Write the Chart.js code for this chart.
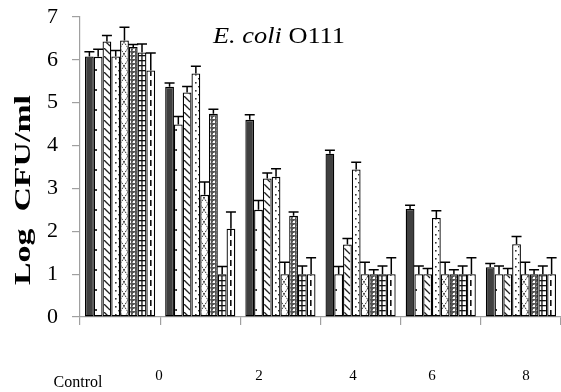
<!DOCTYPE html>
<html>
<head>
<meta charset="utf-8">
<script src="https://cdn.jsdelivr.net/npm/chart.js@4.4.1/dist/chart.umd.min.js"></script>
<style>
html,body{margin:0;padding:0;background:#fff;}
#wrap{width:561px;height:392px;position:relative;}
</style>
</head>
<body>
<div id="wrap"><canvas id="c" width="561" height="392"></canvas></div>
<script>
// ---- data ----
const categories = ['Control', '0', '2', '4', '6', '8'];
const yTicks = [0, 1, 2, 3, 4, 5, 6, 7];
const s1 = [6.08, 5.37, 4.60, 3.81, 2.52, 1.16];
const s2 = [6.07, 4.49, 2.50, 1.00, 1.00, 1.00];
const s3 = [6.43, 5.24, 3.23, 1.69, 1.00, 1.00];
const s4 = [6.08, 5.68, 3.27, 3.44, 2.31, 1.70];
const s5 = [6.45, 2.85, 1.00, 1.00, 1.00, 1.00];
const s6 = [6.30, 4.74, 2.36, 1.00, 1.00, 1.00];
const s7 = [6.17, 1.00, 1.00, 1.00, 1.00, 1.00];
const s8 = [5.75, 2.06, 1.00, 1.00, 1.00, 1.00];
const e1 = [0.11, 0.09, 0.12, 0.08, 0.09, 0.09];
const e2 = [0.18, 0.19, 0.22, 0.18, 0.19, 0.19];
const e3 = [0.14, 0.14, 0.13, 0.14, 0.13, 0.13];
const e4 = [0.14, 0.17, 0.19, 0.17, 0.17, 0.18];
const e5 = [0.31, 0.30, 0.28, 0.28, 0.28, 0.28];
const e6 = [0.06, 0.11, 0.09, 0.10, 0.10, 0.10];
const e7 = [0.20, 0.18, 0.19, 0.19, 0.19, 0.19];
const e8 = [0.41, 0.39, 0.38, 0.38, 0.38, 0.38];
const yTitle = 'Log  CFU/ml';
const titleItalic = 'E. coli';
const titleNormal = ' O111';

// ---- patterns ----
function tile(w, h, draw) {
  const cv = document.createElement('canvas');
  cv.width = w; cv.height = h;
  const g = cv.getContext('2d');
  g.fillStyle = '#fff'; g.fillRect(0, 0, w, h);
  draw(g);
  return document.getElementById('c').getContext('2d').createPattern(cv, 'repeat');
}
const pDots = tile(10, 20, g => { g.fillStyle = '#333'; g.fillRect(5, 9, 2, 2); });
const pDiag = tile(8, 8, g => {
  g.strokeStyle = '#222'; g.lineWidth = 1.3;
  g.beginPath(); g.moveTo(0, 0); g.lineTo(4, 4); g.stroke();
  g.beginPath(); g.moveTo(4, 4); g.lineTo(6, 6); g.stroke();
});
const pDot2 = tile(8, 8, g => { g.fillStyle = '#333'; g.fillRect(3, 2, 1.6, 1.6); g.fillRect(6, 6, 1.4, 1.4); });
const pZig = tile(8, 12, g => {
  g.strokeStyle = '#333'; g.lineWidth = 1;
  g.setLineDash([2, 1]);
  g.beginPath(); g.moveTo(0, 0); g.lineTo(8, 12); g.stroke();
  g.beginPath(); g.moveTo(8, 0); g.lineTo(0, 12); g.stroke();
});
const pCross = tile(4, 4, g => {
  g.fillStyle = '#555';
  g.fillRect(0, 0, 4, 4);
  g.fillStyle = '#fff';
  g.fillRect(1, 1, 2, 2);
  g.fillStyle = '#999';
  g.fillRect(0, 2, 1, 1); g.fillRect(2, 0, 1, 1);
});
const pGrid = tile(10, 5, g => {
  g.fillStyle = '#111';
  g.fillRect(0, 0, 10, 1.3);
  g.fillRect(1.3, 0, 1.3, 5);
});
const pDash = tile(10, 10, g => { g.fillStyle = '#111'; g.fillRect(0, 0, 1.6, 6); });

const fills = ['#404040', pDots, pDiag, pDot2, pZig, pCross, pGrid, pDash];
const series = [s1, s2, s3, s4, s5, s6, s7, s8];
const errs = [e1, e2, e3, e4, e5, e6, e7, e8];

const datasets = series.map((d, i) => ({
  label: 'S' + (i + 1),
  data: d,
  err: errs[i],
  backgroundColor: fills[i],
  borderColor: '#000',
  borderWidth: 1.3,
  borderSkipped: false,
  categoryPercentage: 0.875,
  barPercentage: 1.0
}));

const serif = "'Liberation Serif','Times New Roman',serif";

const errorBars = {
  id: 'errorBars',
  afterDatasetsDraw(chart) {
    const ctx = chart.ctx, y = chart.scales.y;
    ctx.save();
    ctx.strokeStyle = '#000'; ctx.lineWidth = 1.5;
    chart.data.datasets.forEach((ds, di) => {
      const meta = chart.getDatasetMeta(di);
      meta.data.forEach((bar, i) => {
        const v = ds.data[i], e = ds.err[i];
        const y0 = y.getPixelForValue(v), y1 = y.getPixelForValue(v + e);
        ctx.beginPath();
        ctx.moveTo(bar.x, y0); ctx.lineTo(bar.x, y1);
        ctx.moveTo(bar.x - 5, y1); ctx.lineTo(bar.x + 5, y1);
        ctx.stroke();
      });
    });
    ctx.restore();
  }
};

const texts = {
  id: 'texts',
  afterDraw(chart) {
    const ctx = chart.ctx;
    ctx.save();
    ctx.fillStyle = '#000';
    // title, widened to the reference's span
    ctx.textBaseline = 'alphabetic';
    ctx.textAlign = 'left';
    ctx.font = 'italic 23px ' + serif;
    const w1 = ctx.measureText(titleItalic).width;
    ctx.font = '23px ' + serif;
    const w2 = ctx.measureText(titleNormal).width;
    const sx = 132 / (w1 + w2);
    ctx.save();
    ctx.translate(213, 43);
    ctx.scale(sx, 1);
    ctx.font = 'italic 23px ' + serif;
    ctx.fillText(titleItalic, 0, 0);
    ctx.font = '23px ' + serif;
    ctx.fillText(titleNormal, w1, 0);
    ctx.restore();
    // y title (stretched along its length)
    ctx.save();
    ctx.font = 'bold 23px ' + serif;
    const tw = ctx.measureText(yTitle).width;
    ctx.translate(24, 190);
    ctx.rotate(-Math.PI / 2);
    ctx.scale(190 / tw, 1);
    ctx.textAlign = 'center';
    ctx.textBaseline = 'middle';
    ctx.fillText(yTitle, 0, 0);
    ctx.restore();
    // category labels row
    const lx = [78, 159, 259, 353, 432, 526];
    ctx.textAlign = 'center';
    ctx.textBaseline = 'alphabetic';
    categories.forEach((c, i) => {
      ctx.font = (i === 0 ? '16px ' : '15px ') + serif;
      ctx.fillText(c, lx[i], i === 0 ? 387 : 380);
    });
    ctx.restore();
  }
};

new Chart(document.getElementById('c'), {
  type: 'bar',
  data: { labels: categories, datasets },
  options: {
    responsive: false,
    animation: false,
    layout: { padding: { top: 17, left: 0, right: 0, bottom: 0 } },
    plugins: { legend: { display: false }, tooltip: { enabled: false }, title: { display: false } },
    scales: {
      x: {
        afterFit(s) { s.height = 75; s.paddingLeft = 0; s.paddingRight = 0; },
        grid: { offset: true, drawOnChartArea: false, drawTicks: true, tickLength: 8, color: '#a0a0a0', lineWidth: 1.2 },
        border: { display: true, color: '#a0a0a0', width: 1.2 },
        ticks: { display: false }
      },
      y: {
        min: 0, max: 7,
        afterFit(s) { s.width = 80; s.paddingTop = 0; s.paddingBottom = 0; },
        afterBuildTicks(s) { s.ticks = yTicks.map(v => ({ value: v })); },
        grid: { drawOnChartArea: false, drawTicks: true, tickLength: 8, color: '#a0a0a0', lineWidth: 1.2 },
        border: { display: true, color: '#a0a0a0', width: 1.2 },
        ticks: { color: '#000', padding: 14, font: { family: serif, size: 22 } }
      }
    }
  },
  plugins: [errorBars, texts]
});
</script>
</body>
</html>
